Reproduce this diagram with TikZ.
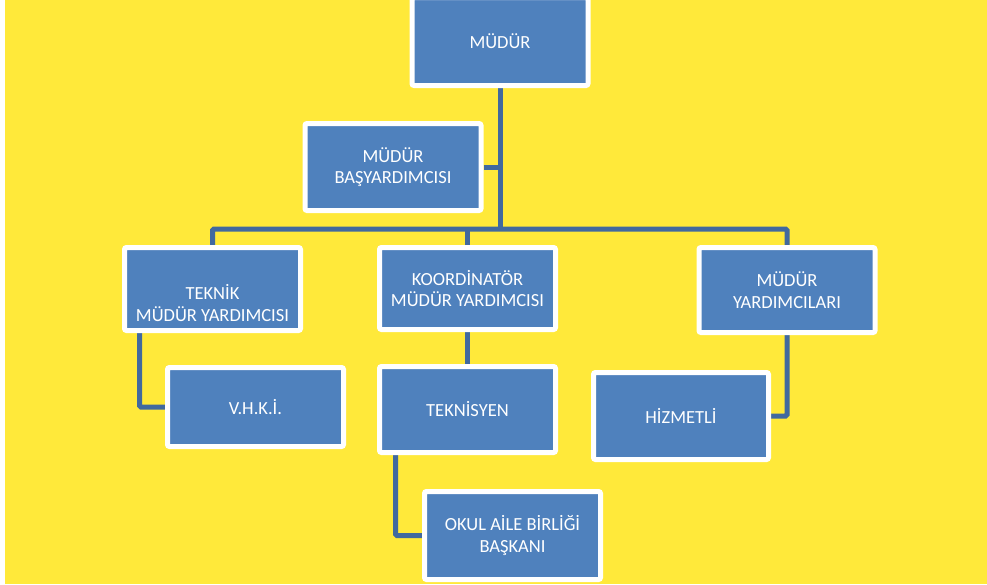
\documentclass[tikz,border=0pt]{standalone}
\usepackage{fontspec}
\setmainfont{Carlito}
\usetikzlibrary{positioning}
\definecolor{sari}{HTML}{FFE93A}
\definecolor{mavi}{HTML}{4F81BD}
\definecolor{hat}{HTML}{41699E}
\pgfdeclarelayer{zemin}
\pgfdeclarelayer{hatlar}
\pgfsetlayers{zemin,hatlar,main}
\begin{document}
\begin{tikzpicture}[x=1pt,y=-1pt,
kutu/.style={draw=white,fill=mavi,line width=5pt,rounded corners=2pt,
minimum width=176pt,minimum height=83pt,inner sep=0pt,
text=white,align=center,font=\fontsize{18.5}{21.5}\selectfont},
yazi/.style={text=white,align=center,inner sep=0pt,font=\fontsize{18.5}{21.5}\selectfont},
baglanti/.style={draw=hat,line width=5pt,rounded corners=1.5pt}]
\useasboundingbox (0,0) rectangle (987,584);
\begin{pgfonlayer}{zemin}
\fill[sari] (5,0) rectangle (987,584);
\end{pgfonlayer}
% kutular
\node[kutu,minimum height=88pt] (mudur) at (500,41.5) {MÜDÜR};
\node[kutu,minimum height=87pt] (bas) at (393,167) {MÜDÜR\\BAŞYARDIMCISI};
\node[kutu] (teknik) at (212.5,289) {};
\node[yazi] (teknikyazi) at ([yshift=-14pt]teknik.center) {TEKNİK\\ MÜDÜR YARDIMCISI};
\node[kutu,minimum height=82pt] (koor) at (467.5,288.5) {KOORDİNATÖR\\MÜDÜR YARDIMCISI};
\node[kutu,minimum height=85pt] (mya) at (787,290) {MÜDÜR\\YARDIMCILARI};
\node[kutu,minimum height=79pt] (vhki) at (255.5,407) {V.H.K.İ.};
\node[kutu,minimum height=86pt] (teknisyen) at (467.5,409.5) {TEKNİSYEN};
\node[kutu,minimum height=87pt,minimum width=175pt] (hizmetli) at (681,416) {HİZMETLİ};
\node[kutu,minimum height=88pt] (okul) at (512.5,535.5) {OKUL AİLE BİRLİĞİ\\BAŞKANI};
\coordinate (bar) at (500,229);
% hatlar
\begin{pgfonlayer}{hatlar}
\draw[baglanti] (mudur.south) -- (bar);
\draw[baglanti] (bas.east) -- (bas.east -| bar);
\draw[baglanti] (teknik.north) |- (bar) -| (mya.north);
\draw[baglanti] (koor.north) -- (koor.north |- bar);
\draw[baglanti] (koor.south) -- (teknisyen.north);
\draw[baglanti] ([xshift=17.5pt]teknik.south west) |- (vhki.west);
\draw[baglanti] ([xshift=18.5pt]teknisyen.south west) |- (okul.west);
\draw[baglanti] (mya.south) |- (hizmetli.east);
\end{pgfonlayer}
\end{tikzpicture}
\end{document}
